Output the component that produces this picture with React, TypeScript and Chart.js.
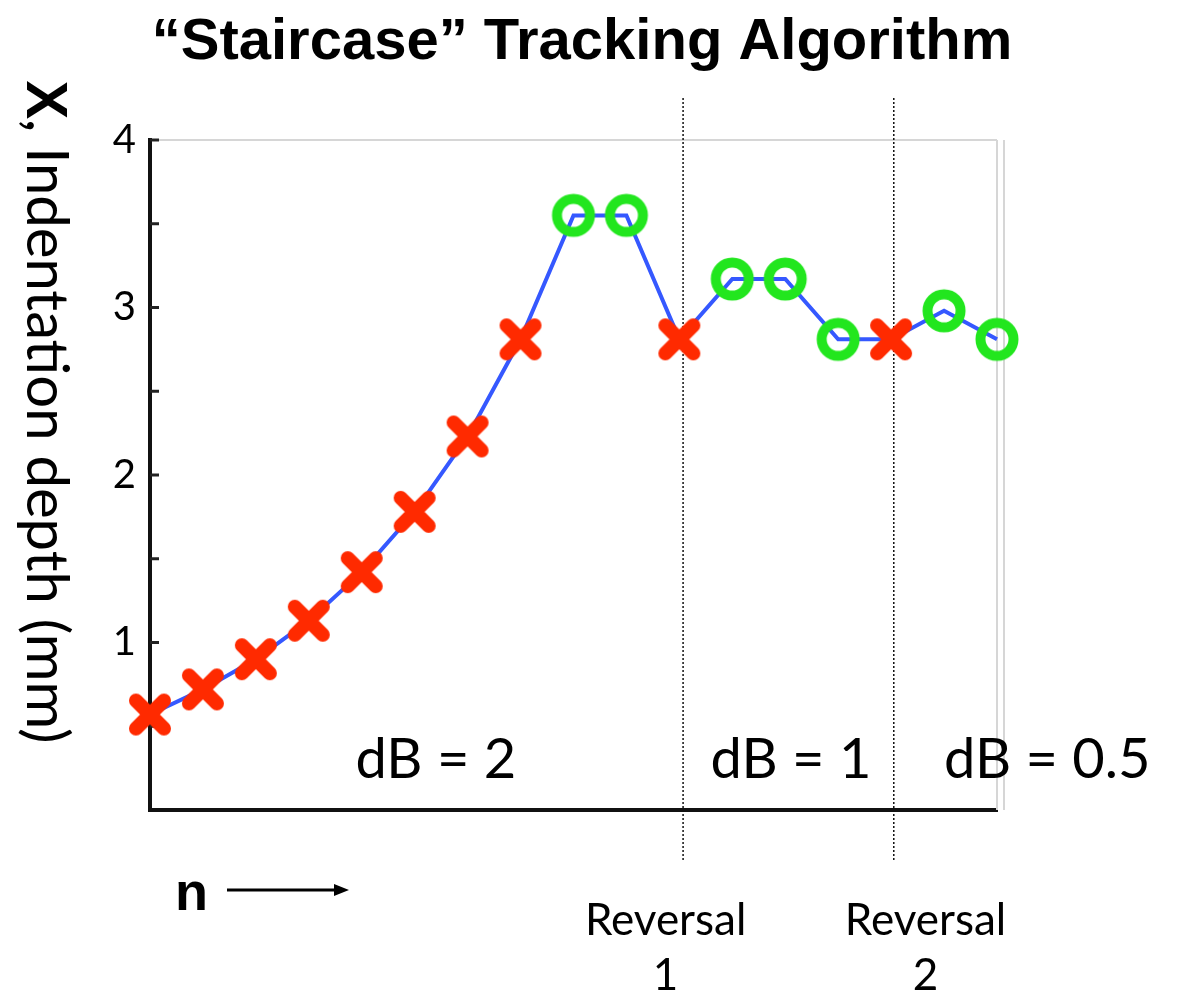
import React, { useEffect, useRef } from "react";
import { Chart, registerables } from "chart.js";

Chart.register(...registerables);

// ---- data ----
const trialIndex = [0, 1, 2, 3, 4, 5, 6, 7, 8, 9, 10, 11, 12, 13, 14, 15, 16];
const depthValues = [0.57, 0.72, 0.9, 1.13, 1.42, 1.78, 2.23, 2.81, 3.55, 3.55, 2.81, 3.17, 3.17, 2.81, 2.81, 2.98, 2.81];
const responseMarks = ["x", "x", "x", "x", "x", "x", "x", "x", "o", "o", "x", "o", "o", "o", "x", "o", "o"];
const yTickLabels = ["1", "2", "3", "4"];
const reversalPositions = [10.07, 14.05];
const reversalLabelX = [9.74, 14.65];
const reversalLabels = [["Reversal", "1"], ["Reversal", "2"]];
const stepLabels = ["dB = 2", "dB = 1", "dB = 0.5"];
const stepLabelX = [3.88, 10.59, 15.0];
const titleText = "\u201CStaircase\u201D Tracking Algorithm";

const RED = "#ff2a00";
const GREEN = "#22e61e";
const BLUE = "#3558ff";
const GILL = "Lato, 'Open Sans', sans-serif";
const HELV = "'Liberation Sans', Arial, sans-serif";

function makeCross(): HTMLCanvasElement {
  const c = document.createElement("canvas");
  c.width = 48;
  c.height = 48;
  const g = c.getContext("2d")!;
  g.strokeStyle = RED;
  g.lineWidth = 14;
  g.lineCap = "round";
  g.beginPath();
  g.moveTo(10, 10);
  g.lineTo(38, 38);
  g.moveTo(38, 10);
  g.lineTo(10, 38);
  g.stroke();
  return c;
}

function makeRing(): HTMLCanvasElement {
  const c = document.createElement("canvas");
  c.width = 48;
  c.height = 48;
  const g = c.getContext("2d")!;
  g.strokeStyle = GREEN;
  g.lineWidth = 10;
  g.beginPath();
  g.arc(24, 24, 16.5, 0, Math.PI * 2);
  g.stroke();
  return c;
}

const decorPlugin = {
  id: "decor",
  beforeDatasetsDraw(chart: any) {
    const { ctx, chartArea } = chart;
    const xs = chart.scales.x;
    const ys = chart.scales.y;
    ctx.save();
    // light frame (top/right)
    ctx.strokeStyle = "#d6d6d6";
    ctx.lineWidth = 2;
    ctx.beginPath();
    ctx.moveTo(chartArea.left, chartArea.top);
    ctx.lineTo(chartArea.right, chartArea.top);
    ctx.moveTo(chartArea.right, chartArea.top);
    ctx.lineTo(chartArea.right, chartArea.bottom);
    ctx.moveTo(chartArea.right + 7, chartArea.top);
    ctx.lineTo(chartArea.right + 7, chartArea.bottom);
    ctx.stroke();
    // inside tick marks
    ctx.strokeStyle = "#222";
    ctx.lineWidth = 3;
    for (let v = 0.5; v <= 4.001; v += 0.5) {
      const y = ys.getPixelForValue(v);
      ctx.beginPath();
      ctx.moveTo(chartArea.left, y);
      ctx.lineTo(chartArea.left + 9, y);
      ctx.stroke();
    }
    // reversal dotted lines
    ctx.strokeStyle = "#111";
    ctx.lineWidth = 1.5;
    ctx.setLineDash([2, 2]);
    reversalPositions.forEach((r) => {
      const x = xs.getPixelForValue(r);
      ctx.beginPath();
      ctx.moveTo(x, chartArea.top - 42);
      ctx.lineTo(x, chartArea.bottom + 50);
      ctx.stroke();
    });
    ctx.setLineDash([]);
    ctx.restore();
  },
  afterDraw(chart: any) {
    const { ctx, chartArea } = chart;
    const xs = chart.scales.x;
    ctx.save();
    // title
    ctx.fillStyle = "#000";
    ctx.font = `bold 58px ${HELV}`;
    ctx.textAlign = "center";
    ctx.textBaseline = "alphabetic";
    ctx.fillText(titleText, 582, 59);

    // y axis title (rotated)
    ctx.save();
    ctx.translate(27, 412);
    ctx.rotate(Math.PI / 2);
    ctx.textBaseline = "alphabetic";
    ctx.textAlign = "left";
    const boldPart = "X";
    const restPart = ", Indentation depth (mm)";
    const boldFont = `bold 58px ${HELV}`;
    const restFont = `58px ${GILL}`;
    ctx.font = boldFont;
    const wb = ctx.measureText(boldPart).width;
    ctx.font = restFont;
    const wr = ctx.measureText(restPart).width;
    const start = -(wb + wr) / 2;
    ctx.font = boldFont;
    ctx.fillText(boldPart, start, 0);
    ctx.font = restFont;
    ctx.fillText(restPart, start + wb, 0);
    ctx.restore();

    // step size labels
    ctx.font = `56px ${GILL}`;
    ctx.textAlign = "left";
    ctx.fillStyle = "#000";
    stepLabels.forEach((t, i) => {
      ctx.fillText(t, xs.getPixelForValue(stepLabelX[i]), chartArea.bottom - 32);
    });

    // reversal labels
    ctx.font = `44px ${GILL}`;
    ctx.textAlign = "center";
    reversalLabels.forEach((lines, i) => {
      const x = xs.getPixelForValue(reversalLabelX[i]);
      ctx.fillText(lines[0], x, chartArea.bottom + 125);
      ctx.fillText(lines[1], x, chartArea.bottom + 180);
    });

    // n arrow
    ctx.textAlign = "left";
    ctx.font = `bold 54px ${HELV}`;
    ctx.fillText("n", chartArea.left + 25, chartArea.bottom + 100);
    const ay = chartArea.bottom + 80;
    ctx.strokeStyle = "#000";
    ctx.lineWidth = 3;
    ctx.beginPath();
    ctx.moveTo(chartArea.left + 77, ay);
    ctx.lineTo(chartArea.left + 188, ay);
    ctx.stroke();
    ctx.beginPath();
    ctx.moveTo(chartArea.left + 199, ay);
    ctx.lineTo(chartArea.left + 184, ay - 6);
    ctx.lineTo(chartArea.left + 184, ay + 6);
    ctx.closePath();
    ctx.fill();
    ctx.restore();
  },
};

export default function App() {
  const ref = useRef<HTMLCanvasElement | null>(null);
  useEffect(() => {
    if (!ref.current) return;
    const cross = makeCross();
    const ring = makeRing();
    const chart = new Chart(ref.current, {
      type: "line",
      data: {
        datasets: [
          {
            data: trialIndex.map((x, i) => ({ x, y: depthValues[i] })),
            borderColor: BLUE,
            borderWidth: 4,
            tension: 0,
            clip: false as any,
            pointStyle: ((c: any) => (responseMarks[c.dataIndex] === "x" ? cross : ring)) as any,
            pointRadius: 20,
            pointHoverRadius: 20,
          },
        ],
      },
      options: {
        animation: false,
        responsive: false,
        maintainAspectRatio: false,
        events: [],
        layout: { padding: { left: 90, right: 181, top: 140, bottom: 182 } },
        plugins: { legend: { display: false }, tooltip: { enabled: false }, title: { display: false } },
        scales: {
          x: {
            type: "linear",
            min: 0,
            max: 16,
            grid: { display: false, drawTicks: false },
            ticks: { display: false },
            border: { display: true, color: "#111", width: 4 },
            afterFit: (s: any) => {
              s.height = 0;
            },
          },
          y: {
            min: 0,
            max: 4,
            grid: { display: false, drawTicks: false },
            border: { display: true, color: "#111", width: 4 },
            ticks: {
              stepSize: 1,
              padding: 14,
              color: "#000",
              font: { family: GILL, size: 40 },
              callback: (v: any) => (yTickLabels.includes(String(v)) ? String(v) : ""),
            },
            afterFit: (s: any) => {
              s.width = 60;
            },
          },
        },
      },
      plugins: [decorPlugin],
    });
    return () => chart.destroy();
  }, []);
  return (
    <div style={{ position: "fixed", left: 0, top: 0, width: 1178, height: 992, background: "#fff" }}>
      <canvas ref={ref} width={1178} height={992} style={{ width: 1178, height: 992 }} />
    </div>
  );
}
